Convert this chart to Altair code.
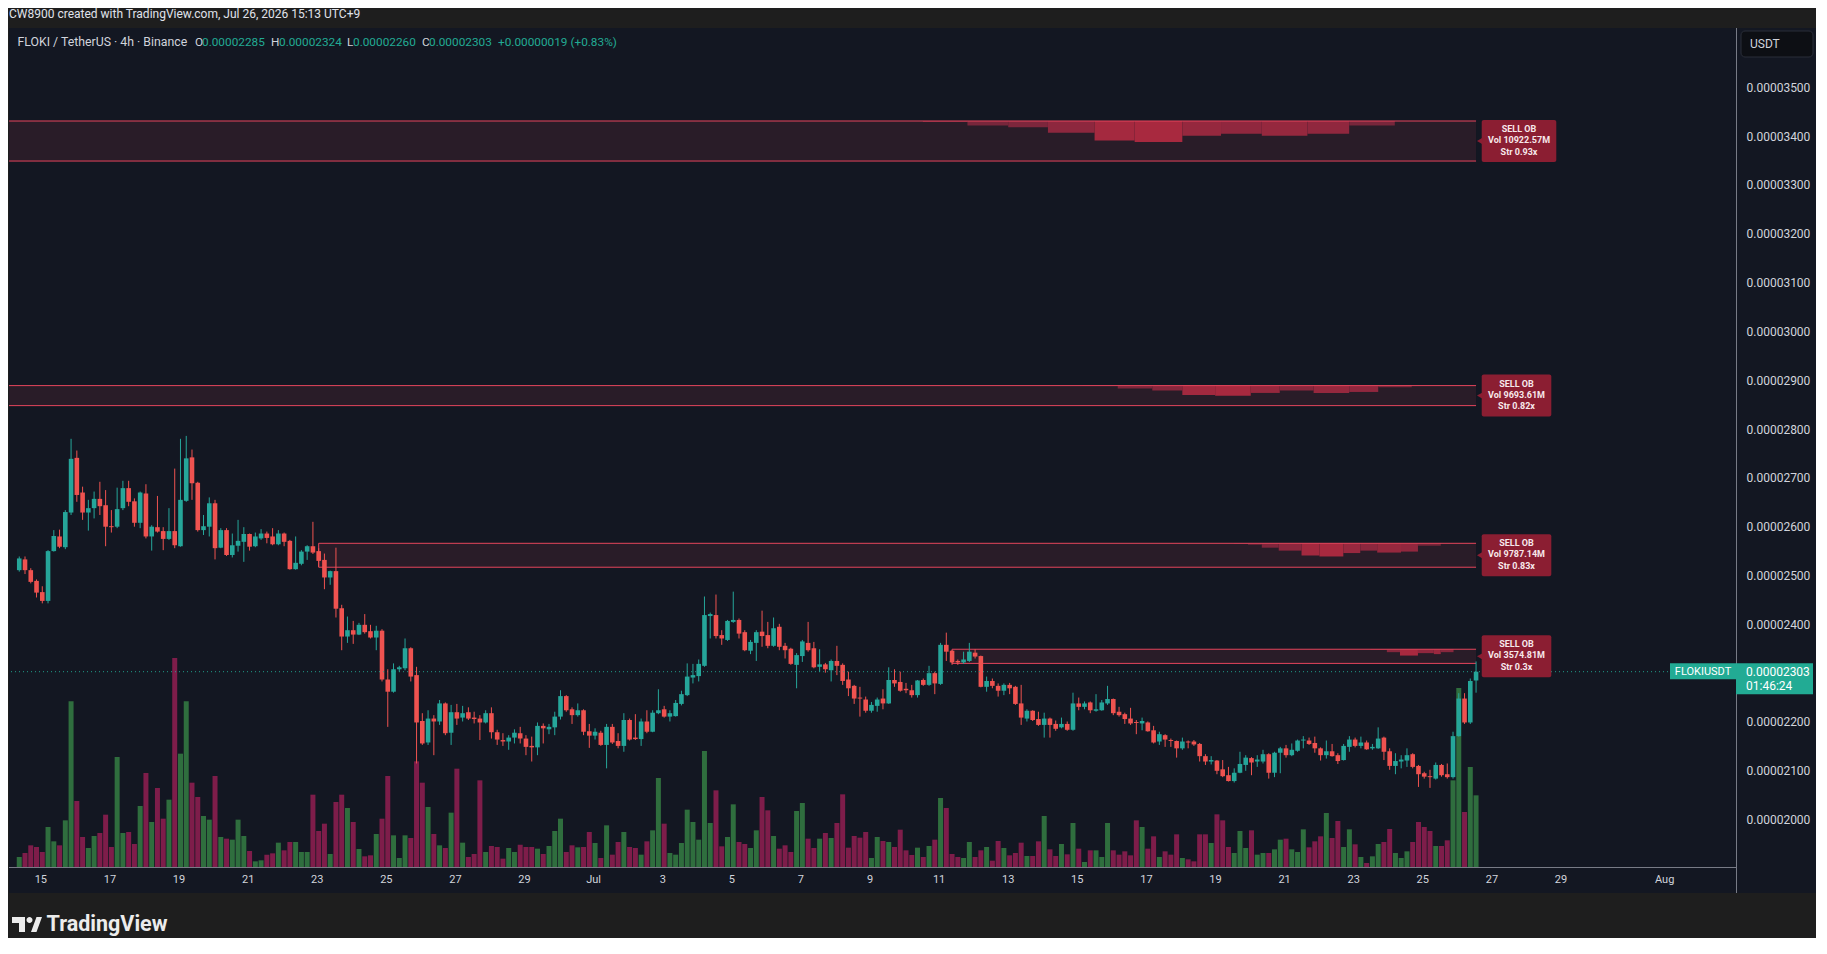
import numpy as np
import pandas as pd
import altair as alt

# ---------------- values (prices in units of 1e-8 USDT) ----------------
opens = [
    2511, 2533, 2511, 2489, 2466, 2448, 2550, 2580, 2558, 2629,
    2741, 2670, 2629, 2638, 2657, 2644, 2601, 2600, 2638, 2679,
    2652, 2608, 2668, 2580, 2599, 2591, 2575, 2591, 2560, 2653,
    2742, 2690, 2593, 2600, 2648, 2557, 2593, 2542, 2561, 2569,
    2585, 2560, 2576, 2586, 2580, 2564, 2586, 2571, 2513, 2524,
    2549, 2560, 2550, 2532, 2496, 2509, 2433, 2375, 2388, 2379,
    2399, 2386, 2373, 2387, 2287, 2262, 2308, 2310, 2351, 2296,
    2202, 2158, 2207, 2201, 2238, 2178, 2220, 2209, 2220, 2209,
    2207, 2199, 2218, 2179, 2163, 2160, 2168, 2177, 2166, 2151,
    2148, 2192, 2185, 2189, 2211, 2253, 2226, 2214, 2224, 2181,
    2172, 2178, 2153, 2190, 2161, 2151, 2204, 2168, 2165, 2201,
    2180, 2218, 2226, 2211, 2212, 2237, 2255, 2291, 2294, 2315,
    2417, 2419, 2378, 2368, 2405, 2409, 2384, 2346, 2362, 2385,
    2378, 2356, 2395, 2356, 2350, 2317, 2335, 2362, 2351, 2313,
    2318, 2306, 2325, 2317, 2287, 2274, 2250, 2246, 2223, 2233,
    2248, 2238, 2286, 2282, 2268, 2265, 2255, 2286, 2276, 2300,
    2278, 2358, 2346, 2325, 2322, 2325, 2342, 2335, 2272, 2284,
    2274, 2264, 2276, 2272, 2238, 2207, 2223, 2206, 2194, 2207,
    2196, 2189, 2196, 2184, 2238, 2231, 2240, 2223, 2224, 2238,
    2247, 2221, 2216, 2207, 2200, 2197, 2199, 2183, 2160, 2173,
    2163, 2161, 2146, 2160, 2160, 2155, 2130, 2119, 2121, 2103,
    2091, 2079, 2096, 2112, 2126, 2119, 2119, 2134, 2096, 2137,
    2146, 2132, 2141, 2162, 2162, 2157, 2146, 2132, 2140, 2132,
    2122, 2149, 2164, 2151, 2158, 2146, 2146, 2168, 2140, 2110,
    2119, 2121, 2134, 2110, 2095, 2089, 2084, 2112, 2093, 2087,
    2171, 2248, 2199, 2285,
]
highs = [
    2539, 2539, 2515, 2492, 2478, 2552, 2593, 2594, 2634, 2780,
    2756, 2682, 2655, 2672, 2692, 2675, 2634, 2680, 2694, 2694,
    2658, 2672, 2687, 2603, 2663, 2599, 2638, 2719, 2780, 2786,
    2758, 2692, 2624, 2660, 2655, 2597, 2597, 2586, 2614, 2599,
    2586, 2588, 2595, 2590, 2597, 2593, 2588, 2573, 2580, 2552,
    2562, 2610, 2556, 2545, 2510, 2557, 2440, 2416, 2407, 2403,
    2421, 2399, 2397, 2390, 2308, 2320, 2315, 2371, 2353, 2313,
    2218, 2224, 2214, 2245, 2240, 2235, 2237, 2233, 2230, 2221,
    2214, 2224, 2230, 2184, 2177, 2173, 2185, 2190, 2173, 2170,
    2199, 2197, 2196, 2221, 2265, 2255, 2230, 2238, 2226, 2196,
    2187, 2182, 2196, 2196, 2177, 2218, 2207, 2216, 2207, 2224,
    2224, 2267, 2233, 2224, 2245, 2264, 2320, 2319, 2328, 2457,
    2424, 2461, 2388, 2409, 2467, 2412, 2388, 2368, 2388, 2428,
    2405, 2414, 2401, 2362, 2352, 2341, 2368, 2405, 2364, 2349,
    2321, 2328, 2356, 2320, 2303, 2276, 2272, 2252, 2241, 2250,
    2267, 2312, 2308, 2303, 2280, 2276, 2286, 2289, 2315, 2303,
    2362, 2383, 2347, 2328, 2344, 2362, 2349, 2336, 2293, 2289,
    2279, 2279, 2280, 2274, 2276, 2226, 2224, 2221, 2219, 2209,
    2203, 2209, 2201, 2260, 2250, 2242, 2242, 2257, 2245, 2274,
    2248, 2231, 2219, 2229, 2204, 2209, 2201, 2192, 2180, 2175,
    2166, 2162, 2168, 2162, 2163, 2157, 2134, 2130, 2122, 2122,
    2108, 2105, 2139, 2132, 2128, 2132, 2143, 2136, 2139, 2149,
    2153, 2156, 2164, 2171, 2168, 2170, 2148, 2162, 2155, 2136,
    2155, 2171, 2168, 2170, 2162, 2155, 2189, 2170, 2146, 2136,
    2132, 2146, 2136, 2112, 2098, 2102, 2117, 2114, 2115, 2180,
    2259, 2259, 2289, 2324,
]
lows = [
    2508, 2503, 2484, 2455, 2443, 2443, 2549, 2556, 2554, 2624,
    2651, 2614, 2592, 2617, 2624, 2560, 2588, 2597, 2634, 2642,
    2600, 2597, 2576, 2551, 2588, 2552, 2573, 2556, 2559, 2651,
    2655, 2590, 2583, 2580, 2533, 2556, 2540, 2537, 2549, 2528,
    2551, 2558, 2573, 2566, 2562, 2562, 2560, 2512, 2512, 2521,
    2532, 2544, 2518, 2472, 2481, 2414, 2347, 2362, 2360, 2378,
    2381, 2371, 2347, 2283, 2190, 2260, 2303, 2306, 2283, 2115,
    2153, 2153, 2132, 2194, 2173, 2153, 2194, 2201, 2204, 2197,
    2163, 2197, 2166, 2153, 2151, 2143, 2156, 2156, 2132, 2119,
    2132, 2156, 2175, 2173, 2205, 2221, 2196, 2211, 2173, 2147,
    2164, 2151, 2105, 2155, 2146, 2139, 2162, 2163, 2151, 2177,
    2179, 2216, 2209, 2201, 2211, 2234, 2253, 2279, 2283, 2313,
    2371, 2371, 2358, 2366, 2403, 2371, 2345, 2339, 2325, 2354,
    2351, 2354, 2347, 2330, 2317, 2269, 2323, 2344, 2310, 2303,
    2301, 2283, 2296, 2276, 2253, 2237, 2211, 2219, 2219, 2221,
    2226, 2237, 2272, 2262, 2259, 2250, 2250, 2274, 2274, 2257,
    2276, 2325, 2317, 2317, 2319, 2323, 2330, 2271, 2262, 2269,
    2252, 2255, 2257, 2235, 2194, 2201, 2202, 2192, 2168, 2168,
    2182, 2187, 2182, 2182, 2224, 2226, 2218, 2221, 2223, 2235,
    2214, 2211, 2196, 2194, 2175, 2183, 2180, 2156, 2153, 2149,
    2149, 2127, 2143, 2146, 2151, 2119, 2112, 2113, 2093, 2087,
    2078, 2076, 2095, 2100, 2091, 2108, 2115, 2084, 2087, 2095,
    2127, 2130, 2139, 2146, 2153, 2137, 2121, 2125, 2129, 2114,
    2121, 2139, 2148, 2146, 2143, 2143, 2145, 2122, 2102, 2093,
    2105, 2108, 2105, 2067, 2084, 2065, 2082, 2088, 2084, 2084,
    2170, 2196, 2196, 2260,
]
closes = [
    2535, 2511, 2487, 2465, 2448, 2550, 2581, 2559, 2630, 2739,
    2665, 2629, 2638, 2657, 2642, 2600, 2599, 2636, 2679, 2651,
    2608, 2670, 2580, 2600, 2590, 2575, 2591, 2562, 2655, 2740,
    2689, 2593, 2601, 2648, 2556, 2593, 2542, 2562, 2571, 2585,
    2559, 2580, 2586, 2577, 2564, 2586, 2569, 2513, 2526, 2549,
    2560, 2547, 2530, 2496, 2509, 2432, 2375, 2388, 2379, 2399,
    2384, 2373, 2387, 2287, 2262, 2308, 2312, 2351, 2293, 2199,
    2156, 2207, 2201, 2238, 2177, 2220, 2207, 2218, 2207, 2206,
    2199, 2218, 2179, 2164, 2160, 2168, 2178, 2166, 2149, 2148,
    2192, 2187, 2190, 2211, 2253, 2224, 2214, 2224, 2180, 2172,
    2180, 2153, 2190, 2158, 2151, 2204, 2164, 2165, 2201, 2180,
    2219, 2224, 2211, 2218, 2239, 2257, 2293, 2296, 2319, 2419,
    2421, 2376, 2371, 2407, 2409, 2381, 2347, 2364, 2384, 2376,
    2356, 2392, 2354, 2347, 2319, 2337, 2365, 2347, 2312, 2318,
    2308, 2325, 2315, 2284, 2269, 2248, 2248, 2223, 2235, 2246,
    2238, 2286, 2279, 2264, 2265, 2255, 2285, 2276, 2300, 2279,
    2358, 2344, 2322, 2322, 2328, 2344, 2334, 2272, 2284, 2274,
    2264, 2276, 2269, 2237, 2209, 2223, 2204, 2194, 2207, 2194,
    2186, 2196, 2184, 2238, 2231, 2238, 2224, 2226, 2240, 2247,
    2218, 2214, 2206, 2197, 2198, 2202, 2181, 2158, 2175, 2164,
    2161, 2146, 2160, 2158, 2154, 2130, 2119, 2122, 2100, 2089,
    2079, 2096, 2114, 2127, 2117, 2123, 2134, 2096, 2137, 2146,
    2132, 2143, 2162, 2164, 2155, 2146, 2132, 2140, 2130, 2120,
    2151, 2164, 2151, 2158, 2144, 2149, 2166, 2139, 2110, 2120,
    2123, 2132, 2108, 2093, 2088, 2087, 2112, 2091, 2087, 2171,
    2248, 2199, 2284, 2303,
]
volumes = [
    33, 45, 68, 63, 48, 123, 80, 68, 143, 500,
    201, 93, 60, 96, 105, 160, 63, 333, 105, 108,
    72, 186, 285, 138, 240, 148, 205, 630, 343, 500,
    256, 213, 156, 145, 276, 93, 88, 85, 145, 96,
    51, 20, 23, 40, 44, 76, 53, 78, 78, 48,
    48, 220, 111, 133, 42, 198, 220, 180, 138, 57,
    35, 38, 102, 148, 276, 98, 30, 98, 90, 320,
    256, 183, 102, 68, 60, 166, 298, 76, 33, 42,
    263, 48, 66, 63, 28, 60, 48, 70, 63, 63,
    58, 42, 66, 111, 148, 48, 68, 62, 63, 108,
    75, 30, 128, 40, 78, 108, 63, 60, 40, 80,
    113, 270, 133, 45, 40, 75, 175, 138, 85, 351,
    135, 233, 65, 93, 191, 78, 72, 60, 113, 213,
    173, 96, 58, 68, 48, 171, 195, 88, 60, 88,
    105, 90, 135, 221, 61, 96, 91, 108, 30, 93,
    81, 78, 63, 115, 53, 39, 61, 33, 66, 85,
    210, 180, 42, 33, 30, 78, 33, 53, 63, 22,
    81, 60, 38, 45, 76, 36, 36, 80, 156, 56,
    36, 72, 41, 135, 58, 18, 53, 53, 33, 135,
    53, 40, 50, 38, 143, 123, 58, 95, 33, 50,
    40, 101, 30, 26, 20, 101, 101, 75, 161, 143,
    63, 45, 111, 60, 113, 40, 45, 45, 56, 85,
    88, 56, 48, 116, 62, 80, 95, 165, 90, 141,
    63, 116, 71, 33, 15, 35, 72, 78, 117, 45,
    30, 50, 78, 138, 123, 111, 66, 66, 83, 263,
    540, 168, 303, 218,
]

first_candle_day = -0.625      # Jun 14 09:00 (UTC+9), in days after Jun 15 00:00
candle_step_day = 4 / 24       # 4h candles

tick_days = [0, 2, 4, 6, 8, 10, 12, 14, 16, 18, 20, 22, 24, 26, 28, 30, 32, 34, 36, 38, 40, 42, 44, 47]
tick_labels = ["15", "17", "19", "21", "23", "25", "27", "29", "Jul", "3", "5", "7", "9", "11",
               "13", "15", "17", "19", "21", "23", "25", "27", "29", "Aug"]
price_ticks = [2000, 2100, 2200, 2400, 2500, 2600, 2700, 2800, 2900, 3000, 3100, 3200, 3300, 3400, 3500]

zone_tops = [3431, 2889, 2566, 2349]
zone_bottoms = [3349, 2848, 2517, 2320]
zone_starts = [-1.5, -1.5, 8.042, 26.375]
zone_titles = ["SELL OB", "SELL OB", "SELL OB", "SELL OB"]
zone_vols = ["Vol 10922.57M", "Vol 9693.61M", "Vol 9787.14M", "Vol 3574.81M"]
zone_strs = ["Str 0.93x", "Str 0.82x", "Str 0.83x", "Str 0.3x"]

ob1_edges = [25.53, 26.82, 28.00, 29.15, 30.50, 31.66, 33.04, 34.16, 35.34, 36.66, 37.87, 39.19]
ob1_depths = [2, 9, 13, 24, 40, 43, 30, 26, 30, 26, 9]
ob2_edges = [30.16, 31.17, 32.17, 33.04, 33.99, 35.02, 35.86, 36.84, 37.87, 38.71, 39.68]
ob2_depths = [1, 6, 10, 19, 21, 15, 10, 15, 13, 3.5]
ob3_edges = [34.53, 34.94, 35.34, 35.83, 36.49, 37.01, 37.70, 38.19, 38.68, 39.37, 39.86, 40.52]
ob3_depths = [1, 3, 9, 15, 25, 27, 20, 15, 19, 17, 5]
ob4_edges = [38.48, 38.96, 39.34, 39.86, 40.32, 40.52, 40.89]
ob4_depths = [1.5, 6, 13, 8, 10, 6]

attribution = "CW8900 created with TradingView.com, Jul 26, 2026 15:13 UTC+9"
symbol_text = "FLOKI / TetherUS · 4h · Binance"
countdown = "01:46:24"
ticker = "FLOKIUSDT"
currency = "USDT"

# ---------------- layout / style ----------------
E = 1e-8
W, H = 1727, 840
X_DOMAIN = [-0.777, 48.921]
Y_DOMAIN = [1900.9, 3621.5]
PPD = W / (X_DOMAIN[1] - X_DOMAIN[0])
PPU = H / (Y_DOMAIN[1] - Y_DOMAIN[0])
VOL_PANE_PX = 210

BG_OUTER = "#1e1e1e"
PANEL = "#131722"
UP = "#26a69a"
DOWN = "#ef5350"
VOL_UP = "#2f6e3e"
VOL_DOWN = "#7e1d4a"
TEXT = "#d1d4dc"
AXIS_LINE = "#787b86"
OB_LINE = "#e5455c"
OB_LABEL = "#8b1e32"
TEAL = "#22ab94"
FONT = "Roboto"
OB_LABEL_W = [75, 70, 70, 70]

n = len(opens)
candles = pd.DataFrame({
    "t": [first_candle_day + i * candle_step_day for i in range(n)],
    "o": [v * E for v in opens],
    "h": [v * E for v in highs],
    "l": [v * E for v in lows],
    "c": [v * E for v in closes],
    "v": volumes,
    "v0": [0] * n,
})
candles["dir"] = np.where(candles["c"] >= candles["o"], "up", "down")
last_t = candles["t"].iloc[-1]
last_close = closes[-1]

x_scale = alt.Scale(domain=X_DOMAIN, nice=False, zero=False)
y_scale = alt.Scale(domain=[Y_DOMAIN[0] * E, Y_DOMAIN[1] * E], nice=False, zero=False)
vol_scale = alt.Scale(domain=[0, max(volumes) * H / VOL_PANE_PX], nice=False, zero=True)

y_axis = alt.Axis(orient="right", values=[v * E for v in price_ticks], format=".8f", ticks=False,
                  domain=False, grid=False, labelColor=TEXT, labelFontSize=12,
                  labelFont=FONT, labelPadding=10, labelFlush=False, title=None)


def X(f):
    return alt.X(f, type="quantitative", scale=x_scale, axis=None)


def Y(f):
    return alt.Y(f, type="quantitative", scale=y_scale, axis=None)


one = pd.DataFrame({"k": [0]})


def txt(s, x, y, color, size, weight="normal", align="left", baseline="middle"):
    return alt.Chart(pd.DataFrame({"s": [s]})).mark_text(
        align=align, baseline=baseline, color=color, fontSize=size, fontWeight=weight, font=FONT
    ).encode(x=alt.value(x), y=alt.value(y), text="s:N")


def frame_rect(x, x2, y, y2, fill):
    return alt.Chart(one).mark_rect(fill=fill).encode(
        x=alt.value(x), x2=alt.value(x2), y=alt.value(y), y2=alt.value(y2))


# ---------------- outer (grey) frame around the dark panel ----------------
frame = [
    frame_rect(-2, 1812, -22, 0, BG_OUTER),      # top bar
    frame_rect(-2, 1812, 865, 912, BG_OUTER),    # bottom bar
    frame_rect(-2, 0, -22, 912, BG_OUTER),       # left strip
    frame_rect(1808, 1812, -22, 912, BG_OUTER),  # right strip
]

# ---------------- time axis labels, placed through the x scale ----------------
time_ticks = pd.DataFrame({"d": tick_days, "lbl": tick_labels})
time_labels = alt.Chart(time_ticks).mark_text(
    align="center", baseline="middle", color=TEXT, fontSize=11, font=FONT
).encode(x=X("d"), y=alt.value(852), text="lbl:N")

# ---------------- volume ----------------
volume = alt.Chart(candles).mark_bar(size=5).encode(
    x=X("t"),
    y=alt.Y("v:Q", scale=vol_scale, axis=None),
    y2="v0:Q",
    color=alt.condition("datum.dir == 'up'", alt.value(VOL_UP), alt.value(VOL_DOWN)),
)

# ---------------- order-block zones ----------------
zones = pd.DataFrame({
    "start": zone_starts,
    "end": [last_t] * 4,
    "top": [v * E for v in zone_tops],
    "bottom": [v * E for v in zone_bottoms],
    "mid": [(a + b) / 2 * E for a, b in zip(zone_tops, zone_bottoms)],
})
rows = []
for zi, (edges, depths) in enumerate([(ob1_edges, ob1_depths), (ob2_edges, ob2_depths),
                                      (ob3_edges, ob3_depths), (ob4_edges, ob4_depths)]):
    mx = max(depths)
    for k, d in enumerate(depths):
        rows.append({"x": edges[k], "x2": edges[k + 1], "y": zone_tops[zi] * E,
                     "y2": (zone_tops[zi] - d) * E, "r": d / mx})
profile = pd.DataFrame(rows)

zone_fill = alt.Chart(zones).mark_rect(fill=OB_LINE, opacity=0.11, clip=True).encode(
    x=X("start"), x2="end", y=Y("top"), y2="bottom")
zone_prof = alt.Chart(profile).mark_rect(clip=True).encode(
    x=X("x"), x2="x2", y=Y("y"), y2="y2",
    color=alt.Color("r:Q", scale=alt.Scale(domain=[0, 1], range=["#6a2538", "#a8293f"]), legend=None))
zone_top_line = alt.Chart(zones).mark_rule(color=OB_LINE, strokeWidth=1, clip=True).encode(
    x=X("start"), x2="end", y=Y("top"))
zone_bot_line = alt.Chart(zones).mark_rule(color=OB_LINE, strokeWidth=1, clip=True).encode(
    x=X("start"), x2="end", y=Y("bottom"))
zone_left_line = alt.Chart(zones).mark_rule(color=OB_LINE, strokeWidth=1, clip=True).encode(
    x=X("start"), y=Y("top"), y2="bottom")

# ---------------- candles ----------------
cond = alt.condition("datum.dir == 'up'", alt.value(UP), alt.value(DOWN))
wicks = alt.Chart(candles).mark_rule(strokeWidth=1).encode(
    x=X("t"),
    y=alt.Y("l:Q", scale=y_scale, axis=y_axis),
    y2="h:Q",
    color=cond,
)
bodies = alt.Chart(candles).mark_bar(size=4.6).encode(x=X("t"), y=Y("o"), y2="c", color=cond)

# ---------------- current price ----------------
price_line = alt.Chart(one).mark_rule(color=TEAL, strokeDash=[1, 3], strokeWidth=1, opacity=0.9).encode(
    y=alt.Y(datum=last_close * E, type="quantitative", scale=y_scale, axis=None))

boxes = pd.DataFrame({
    "y": [(last_close + 8.5 / PPU) * E, (last_close + 8.5 / PPU) * E],
    "y2": [(last_close - 22.5 / PPU) * E, (last_close - 7.5 / PPU) * E],
})
price_box = alt.Chart(boxes.iloc[[0]]).mark_rect(fill=TEAL).encode(
    x=alt.value(1727), x2=alt.value(1804), y=Y("y"), y2="y2")
ticker_box = alt.Chart(boxes.iloc[[1]]).mark_rect(fill=TEAL).encode(
    x=alt.value(1661), x2=alt.value(1727), y=Y("y"), y2="y2")
cur = pd.DataFrame({"p": [last_close * E], "p2": [(last_close - 14.5 / PPU) * E],
                    "s": [f"{last_close * E:.8f}"], "cd": [countdown], "tk": [ticker]})
price_txt = alt.Chart(cur).mark_text(align="left", baseline="middle", color="#ffffff", fontSize=12,
                                     font=FONT).encode(x=alt.value(1737), y=Y("p"), text="s:N")
cd_txt = alt.Chart(cur).mark_text(align="left", baseline="middle", color="#ffffff", fontSize=12,
                                  font=FONT).encode(x=alt.value(1737), y=Y("p2"), text="cd:N")
tk_txt = alt.Chart(cur).mark_text(align="center", baseline="middle", color="#ffffff", fontSize=11,
                                  font=FONT).encode(x=alt.value(1694), y=Y("p"), text="tk:N")

# ---------------- order-block labels ----------------
lab = pd.DataFrame({
    "bx": [last_t + 5.7 / PPD] * 4,
    "bx2": [last_t + (5.7 + w) / PPD for w in OB_LABEL_W],
    "cx": [last_t + (5.7 + w / 2) / PPD for w in OB_LABEL_W],
    "tx": [last_t + 3.5 / PPD] * 4,
    "by": [((a + b) / 2 + 21 / PPU) * E for a, b in zip(zone_tops, zone_bottoms)],
    "by2": [((a + b) / 2 - 21 / PPU) * E for a, b in zip(zone_tops, zone_bottoms)],
    "mid": zones["mid"],
    "l1": zone_titles, "l2": zone_vols, "l3": zone_strs,
})
lab_box = alt.Chart(lab).mark_rect(fill=OB_LABEL, cornerRadius=2).encode(
    x=X("bx"), x2="bx2", y=Y("by"), y2="by2")
lab_tri = alt.Chart(lab).mark_point(shape="triangle-left", filled=True, size=34, color=OB_LABEL,
                                    opacity=1, strokeWidth=0).encode(x=X("tx"), y=Y("mid"))
lab_txt = [
    alt.Chart(lab).mark_text(dy=dy, align="center", baseline="middle", color="#f7e8eb", fontSize=9,
                             fontWeight="bold", font=FONT).encode(x=X("cx"), y=Y("mid"), text=f"{f}:N")
    for f, dy in [("l1", -12), ("l2", -1), ("l3", 10.5)]
]

# ---------------- frame decorations ----------------
sep_v = alt.Chart(one).mark_rule(color=AXIS_LINE, strokeWidth=1).encode(
    x=alt.value(1727.5), y=alt.value(0), y2=alt.value(865))
sep_h = alt.Chart(one).mark_rule(color=AXIS_LINE, strokeWidth=1).encode(
    x=alt.value(0), x2=alt.value(1727.5), y=alt.value(839.5))
usdt_box = alt.Chart(one).mark_rect(fill="#0d0f14", stroke="#2a2e39", strokeWidth=1, cornerRadius=4).encode(
    x=alt.value(1732), x2=alt.value(1804), y=alt.value(3), y2=alt.value(29))
usdt_txt = txt(currency, 1741, 16, TEXT, 12)

o_s = f"{opens[-1] * E:.8f}"
h_s = f"{highs[-1] * E:.8f}"
l_s = f"{lows[-1] * E:.8f}"
c_s = f"{closes[-1] * E:.8f}"
chg = closes[-1] - closes[-2]
chg_s = f"+{chg * E:.8f} (+{chg / closes[-2] * 100:.2f}%)"

LEG = 11.8
legend_layers = [
    txt(attribution, 0, -14, "#e0e3eb", 12),
    txt(symbol_text, 8.5, 14, TEXT, 12.3),
    txt("O", 186, 14, TEXT, LEG), txt(o_s, 193, 14, TEAL, LEG),
    txt("H", 262, 14, TEXT, LEG), txt(h_s, 270, 14, TEAL, LEG),
    txt("L", 338, 14, TEXT, LEG), txt(l_s, 344, 14, TEAL, LEG),
    txt("C", 413, 14, TEXT, LEG), txt(c_s, 420, 14, TEAL, LEG),
    txt(chg_s, 489, 14, TEAL, LEG),
    txt("TradingView", 37.6, 896.5, "#ececec", 21.5, weight="bold"),
]
logo_path = ("M-1,-0.5 H-0.133 V0.5 H-0.533 V-0.1 H-1 Z "
             "M-0.033,-0.3 A0.2,0.2 0 1,0 0.367,-0.3 A0.2,0.2 0 1,0 -0.033,-0.3 Z "
             "M0.267,0.5 L0.633,-0.5 H1 L0.633,0.5 Z")
logo = alt.Chart(one).mark_point(shape=logo_path, filled=True, size=900, color="#ececec",
                                 opacity=1, strokeWidth=0).encode(x=alt.value(18), y=alt.value(896.5))

# one flat layer; every price layer carries the same fixed y domain, the volume layer its own
chart = alt.layer(
    volume,
    zone_fill, zone_prof, zone_top_line, zone_bot_line, zone_left_line,
    bodies, price_line,
    lab_box, lab_tri, *lab_txt,
    *frame,
    sep_v, sep_h, time_labels,
    ticker_box, price_box, price_txt, cd_txt, tk_txt,
    usdt_box, usdt_txt, *legend_layers, logo,
    wicks,
).resolve_scale(y="independent").properties(
    width=W, height=H,
    padding={"left": 1, "top": 20, "right": 80, "bottom": 70},
    autosize=alt.AutoSizeParams(type="none"),
    background=PANEL,
).configure(font=FONT).configure_view(stroke=None)

chart.save("out.html", embed_options={"renderer": "svg", "actions": False})
